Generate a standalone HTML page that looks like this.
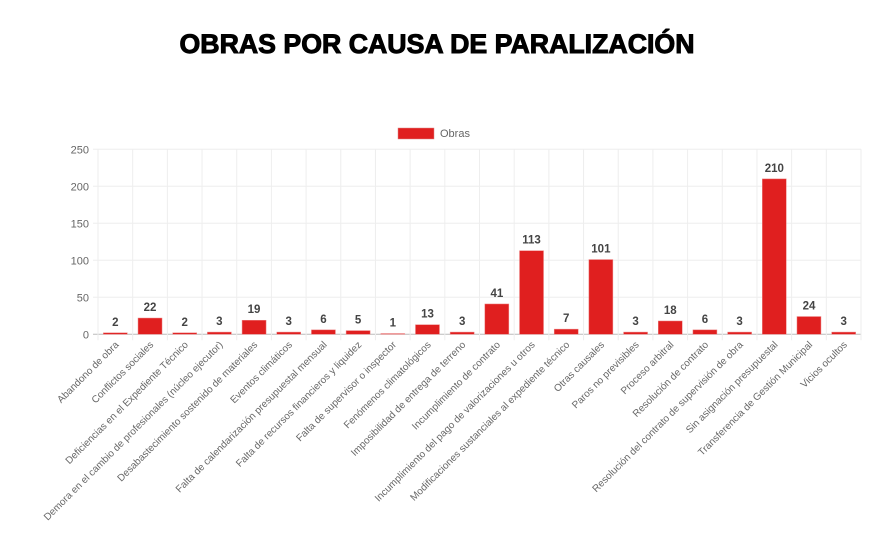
<!DOCTYPE html>
<html><head><meta charset="utf-8"><style>
html,body{margin:0;padding:0;background:#fff;width:873px;height:553px;overflow:hidden}
text{font-family:"Liberation Sans",sans-serif}
</style></head><body>
<svg width="873" height="553" viewBox="0 0 873 553" xmlns="http://www.w3.org/2000/svg">
<text x="437" y="53" text-anchor="middle" font-size="27" font-weight="bold" fill="#000" stroke="#000" stroke-width="1" textLength="515" lengthAdjust="spacingAndGlyphs">OBRAS POR CAUSA DE PARALIZACIÓN</text>
<rect x="398" y="128" width="36" height="11" fill="#e01f1f" stroke="#d88" stroke-width="0.5"/>
<text x="440" y="137" font-size="11" fill="#666">Obras</text>
<g id="grid" stroke="#eee" stroke-width="1"></g>
<g id="bars"></g>
<g id="labels"></g>
</svg>
<script>
const data=[["Abandono de obra",2],["Conflictos sociales",22],["Deficiencias en el Expediente Técnico",2],["Demora en el cambio de profesionales (núcleo ejecutor)",3],["Desabastecimiento sostenido de materiales",19],["Eventos climáticos",3],["Falta de calendarización presupuestal mensual",6],["Falta de recursos financieros y liquidez",5],["Falta de supervisor o inspector",1],["Fenómenos climatológicos",13],["Imposibilidad de entrega de terreno",3],["Incumplimiento de contrato",41],["Incumplimiento del pago de valorizaciones u otros",113],["Modificaciones sustanciales al expediente técnico",7],["Otras causales",101],["Paros no previsibles",3],["Proceso arbitral",18],["Resolución de  contrato",6],["Resolución del contrato de supervisión de obra",3],["Sin asignación presupuestal",210],["Transferencia de Gestión Municipal",24],["Vicios ocultos",3]];
const NS="http://www.w3.org/2000/svg";
const L=98,R=861,T=149.3,B=334.3,n=data.length,w=(R-L)/n,k=(B-T)/250;
const g=document.getElementById('grid'),b=document.getElementById('bars'),lb=document.getElementById('labels');
function el(t,a,p,txt){const e=document.createElementNS(NS,t);for(const q in a)e.setAttribute(q,a[q]);if(txt!=null)e.textContent=txt;p.appendChild(e);return e;}
for(let v=0;v<=250;v+=50){const y=B-v*k;el('line',{x1:L-5,x2:R,y1:y,y2:y,stroke:v==0?'#bbb':'#eee'},g);el('text',{x:L-9,y:y+4,'text-anchor':'end','font-size':11,fill:'#666'},lb,v);}
for(let i=0;i<=n;i++){const x=L+i*w;el('line',{x1:x,x2:x,y1:T,y2:B+6,stroke:'#eee'},g);}
data.forEach((d,i)=>{const cx=L+w*(i+0.5),h=d[1]*k;
el('rect',{x:cx-12,y:B-h,width:24,height:h,fill:'#e01f1f',stroke:'#e88','stroke-width':0.5},b);
el('text',{x:cx,y:B-h-7,'text-anchor':'middle','font-size':11.5,'font-weight':'bold',fill:'#444'},lb,d[1]);
el('text',{x:0,y:0,'text-anchor':'end','font-size':10,fill:'#666',transform:`translate(${cx+4},${B+11}) rotate(-45)`},lb,d[0]);});
</script>
</body></html>
